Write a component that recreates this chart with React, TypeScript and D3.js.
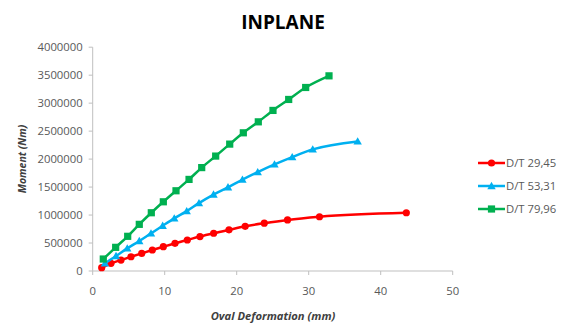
import React from "react";
import * as d3 from "d3";

const seriesNames = ["D/T 29,45", "D/T 53,31", "D/T 79,96"];
const seriesColors = ["#FF0000", "#00B0F0", "#00B050"];
const seriesMarkers = ["circle", "triangle", "square"];

const redX = [1.25, 2.54, 3.93, 5.32, 6.81, 8.28, 9.81, 11.43, 13.14, 14.9, 16.8, 18.93, 21.18, 23.83, 27.06, 31.5, 43.56];
const redY = [59000, 138000, 196000, 255000, 316000, 375000, 434000, 495000, 554000, 616000, 675000, 736000, 798000, 854000, 913000, 970000, 1041000];

const blueX = [1.7, 3.24, 4.8, 6.47, 8.1, 9.72, 11.33, 13.06, 14.76, 16.78, 18.79, 20.8, 22.92, 25.25, 27.71, 30.56, 36.8];
const blueY = [138000, 268000, 405000, 536000, 673000, 809000, 941000, 1071000, 1214000, 1366000, 1496000, 1634000, 1768000, 1905000, 2036000, 2173000, 2316000];

const greenX = [1.47, 3.19, 4.86, 6.47, 8.14, 9.81, 11.57, 13.38, 15.14, 17.08, 19.03, 20.92, 23.0, 25.04, 27.22, 29.58, 32.82];
const greenY = [214000, 423000, 620000, 834000, 1041000, 1237000, 1434000, 1637000, 1848000, 2054000, 2268000, 2470000, 2666000, 2870000, 3066000, 3280000, 3488000];

const xTicks = [0, 10, 20, 30, 40, 50];
const yTicks = [0, 500000, 1000000, 1500000, 2000000, 2500000, 3000000, 3500000, 4000000];

const title = "INPLANE";
const xTitle = "Oval Deformation (mm)";
const yTitle = "Moment (Nm)";

const W = 566;
const H = 324;
const FONT = "'Open Sans', 'Liberation Sans', sans-serif";

function Marker({ type, x, y, color }: { type: string; x: number; y: number; color: string }) {
  if (type === "circle") return <circle cx={x} cy={y} r={3.6} fill={color} />;
  if (type === "square") return <rect x={x - 3.6} y={y - 3.6} width={7.2} height={7.2} fill={color} />;
  const s = 4.2;
  return <path d={`M${x},${y - s}L${x + s},${y + s * 0.75}L${x - s},${y + s * 0.75}Z`} fill={color} />;
}

export default function App() {
  const x = d3.scaleLinear().domain([0, 50]).range([92.7, 452.7]);
  const y = d3.scaleLinear().domain([0, 4000000]).range([271, 47.2]);
  const data = [
    redX.map((v, i) => [v, redY[i]] as [number, number]),
    blueX.map((v, i) => [v, blueY[i]] as [number, number]),
    greenX.map((v, i) => [v, greenY[i]] as [number, number]),
  ];
  const line = d3
    .line<[number, number]>()
    .x((d) => x(d[0]))
    .y((d) => y(d[1]))
    .curve(d3.curveMonotoneX);
  const axisColor = "#BFBFBF";
  const textColor = "#595959";
  const legendY = [163, 186, 209];

  return (
    <svg width={W} height={H} style={{ position: "absolute", left: 0, top: 0, background: "#fff" }}>
      <text x={283} y={29} textAnchor="middle" fontFamily={FONT} fontWeight="bold" fontSize={19} fill="#000">
        {title}
      </text>
      <line x1={x(0)} x2={x(0)} y1={y(4000000)} y2={y(0)} stroke={axisColor} strokeWidth={1} />
      <line x1={x(0)} x2={x(50)} y1={y(0)} y2={y(0)} stroke={axisColor} strokeWidth={1} />
      {yTicks.map((t) => (
        <g key={"y" + t}>
          <line x1={x(0) - 4} x2={x(0)} y1={y(t)} y2={y(t)} stroke={axisColor} />
          <text x={x(0) - 10} y={y(t)} dy="0.35em" textAnchor="end" fontFamily={FONT} fontSize={11.3} fill={textColor}>
            {t}
          </text>
        </g>
      ))}
      {xTicks.map((t) => (
        <g key={"x" + t}>
          <line x1={x(t)} x2={x(t)} y1={y(0)} y2={y(0) + 4} stroke={axisColor} />
          <text x={x(t)} y={295} textAnchor="middle" fontFamily={FONT} fontSize={11.3} fill={textColor}>
            {t}
          </text>
        </g>
      ))}
      <text x={273} y={320} textAnchor="middle" fontFamily={FONT} fontSize={11.2} fontWeight="bold" fontStyle="italic" fill="#404040">
        {xTitle}
      </text>
      <text
        transform={`translate(26,159) rotate(-90)`}
        textAnchor="middle"
        fontFamily={FONT}
        fontSize={10.5}
        fontWeight="bold"
        fontStyle="italic"
        fill="#404040"
      >
        {yTitle}
      </text>
      {data.map((d, si) => (
        <g key={"s" + si}>
          <path d={line(d) || ""} fill="none" stroke={seriesColors[si]} strokeWidth={2.5} strokeLinejoin="round" />
          {d.map((p, i) => (
            <Marker key={i} type={seriesMarkers[si]} x={x(p[0])} y={y(p[1])} color={seriesColors[si]} />
          ))}
        </g>
      ))}
      {seriesNames.map((n, i) => (
        <g key={"l" + i}>
          <line x1={478} x2={505} y1={legendY[i]} y2={legendY[i]} stroke={seriesColors[i]} strokeWidth={2.5} />
          <Marker type={seriesMarkers[i]} x={491.5} y={legendY[i]} color={seriesColors[i]} />
          <text x={506} y={legendY[i]} dy="0.35em" fontFamily={FONT} fontSize={11.3} fill={textColor}>
            {n}
          </text>
        </g>
      ))}
    </svg>
  );
}
